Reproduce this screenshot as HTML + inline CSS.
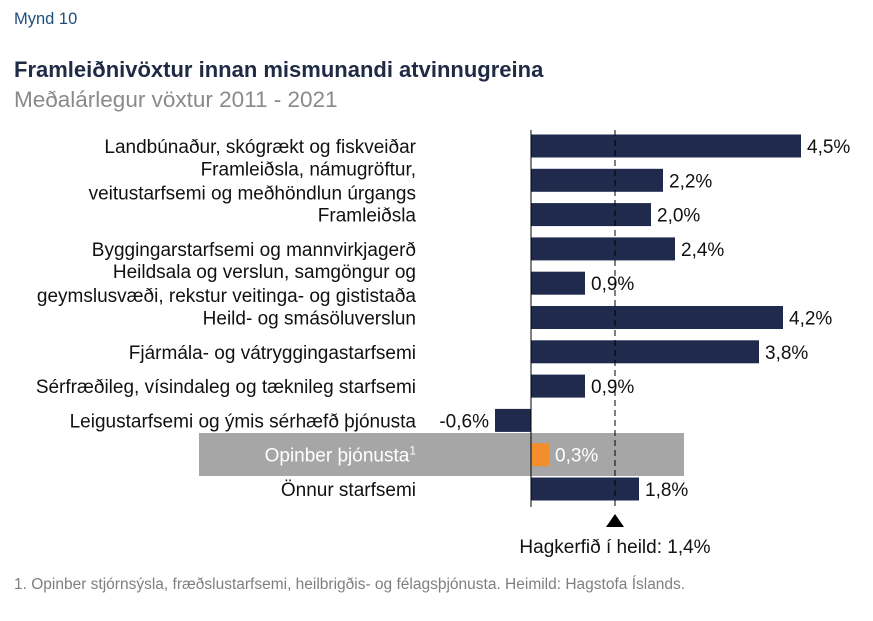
<!DOCTYPE html>
<html><head><meta charset="utf-8"><style>
body{margin:0;background:#fff;font-family:"Liberation Sans",sans-serif}
svg text{font-family:"Liberation Sans",sans-serif}
</style></head><body>
<svg id="c" width="873" height="616" xmlns="http://www.w3.org/2000/svg">
<text x="14" y="24" font-size="16.5" fill="#1f4e79">Mynd 10</text>
<text x="14" y="77" font-size="22" font-weight="bold" fill="#1f2a44">Framleiðnivöxtur innan mismunandi atvinnugreina</text>
<text x="14" y="107" font-size="22.5" fill="#8a8a8a">Meðalárlegur vöxtur 2011 - 2021</text>
<rect x="199" y="433" width="485" height="43" fill="#a6a6a6"/>
<g id="bars"></g>
<text x="14" y="589" font-size="15.5" fill="#7f7f7f">1. Opinber stjórnsýsla, fræðslustarfsemi, heilbrigðis- og félagsþjónusta. Heimild: Hagstofa Íslands.</text>
</svg>
<script>
const categories=[["Landbúnaður, skógrækt og fiskveiðar"],["Framleiðsla, námugröftur,","veitustarfsemi og meðhöndlun úrgangs"],["Framleiðsla"],["Byggingarstarfsemi og mannvirkjagerð"],["Heildsala og verslun, samgöngur og","geymslusvæði, rekstur veitinga- og gististaða"],["Heild- og smásöluverslun"],["Fjármála- og vátryggingastarfsemi"],["Sérfræðileg, vísindaleg og tæknileg starfsemi"],["Leigustarfsemi og ýmis sérhæfð þjónusta"],["Opinber þjónusta"],["Önnur starfsemi"]];
const values=[4.5,2.2,2.0,2.4,0.9,4.2,3.8,0.9,-0.6,0.3,1.8];
const valueLabels=["4,5%","2,2%","2,0%","2,4%","0,9%","4,2%","3,8%","0,9%","-0,6%","0,3%","1,8%"];
const highlightIndex=[9];
const totalValue=[1.4];
const totalLabel=["Hagkerfið í heild: 1,4%"];
const NS="http://www.w3.org/2000/svg";
const g=document.getElementById('bars');
const x0=531, pxPer=60;
const xs=v=>x0+v*pxPer;
const ys=i=>146+i*34.3;
function mk(t,a,p){const e=document.createElementNS(NS,t);for(const k in a)e.setAttribute(k,a[k]);(p||g).appendChild(e);return e;}
values.forEach((v,i)=>{
  const hl=highlightIndex.includes(i);
  const cy=ys(i);
  const r=mk('rect',{x:Math.min(xs(0),xs(v)),y:cy-11.5,width:Math.abs(xs(v)-xs(0)),height:23,fill:hl?'#f28e2b':'#1f2a4d'});
  
  
  const lx=v>=0?xs(v)+6:xs(v)-6;
  const vt=mk('text',{x:lx,y:cy+7,'font-size':19,fill:hl?'#fff':'#111','text-anchor':v>=0?'start':'end'});
  vt.textContent=valueLabels[i];
  
  
  const lines=categories[i];
  lines.forEach((ln,j)=>{
    const off=lines.length===1?7:(j===0?-5:19);
    const t=mk('text',{x:416,y:cy+off,'font-size':19,fill:hl?'#fff':'#111','text-anchor':'end'});
    t.textContent=ln;
    if(hl){const s=mk('tspan',{'baseline-shift':'super','font-size':12},t);s.textContent='1';}
    
    
  });
});
const ax=mk('line',{x1:x0,x2:x0,y1:130,y2:507,stroke:'#000','stroke-width':1});


const tx=xs(totalValue[0]);
const dl=mk('line',{x1:tx,x2:tx,y1:130,y2:508,stroke:'#000','stroke-width':1,'stroke-dasharray':'6,4'});


const tri=mk('polygon',{points:`${tx-9},527 ${tx+9},527 ${tx},514`,fill:'#000'});


const tl=mk('text',{x:tx,y:553,'font-size':19,fill:'#111','text-anchor':'middle'});
tl.textContent=totalLabel[0];


</script>
</body></html>
